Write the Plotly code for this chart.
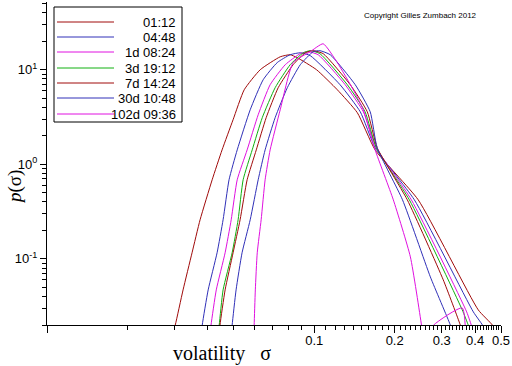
import numpy as np
import plotly.graph_objects as go

names = ["01:12", "04:48", "1d 08:24", "3d 19:12", "7d 14:24", "30d 10:48", "102d 09:36"]
colors = ["#a00a0a", "#3030b8", "#e010e0", "#10b010", "#a00a0a", "#3030b8", "#e010e0"]

s_0112 = [0.0296, 0.0302, 0.0323, 0.0349, 0.0374, 0.0415, 0.0452, 0.0497, 0.0547, 0.0628, 0.0746, 0.0813, 0.0864, 0.102, 0.122, 0.145, 0.169, 0.245, 0.411, 0.464, 0.48]
p_0112 = [0.0165, 0.020, 0.047, 0.116, 0.259, 0.686, 1.42, 2.96, 6.14, 10.0, 13.7, 14.4, 13.4, 10.0, 6.14, 3.51, 1.42, 0.421, 0.0289, 0.020, 0.0165]

s_0448 = [0.0378, 0.0381, 0.0401, 0.0433, 0.0456, 0.0480, 0.0515, 0.0576, 0.0644, 0.0727, 0.0813, 0.0887, 0.0966, 0.125, 0.1487, 0.169, 0.237, 0.394, 0.426, 0.44]
p_0448 = [0.016, 0.020, 0.047, 0.116, 0.259, 0.686, 1.42, 3.77, 7.83, 11.9, 14.4, 15.1, 14.1, 6.93, 3.59, 1.50, 0.421, 0.0275, 0.020, 0.016]

s_1d = [0.0408, 0.0411, 0.0430, 0.0464, 0.0489, 0.0515, 0.0561, 0.0617, 0.0684, 0.0779, 0.0887, 0.0950, 0.1035, 0.1306, 0.1527, 0.1707, 0.231, 0.372, 0.387, 0.397]
p_1d = [0.016, 0.020, 0.047, 0.116, 0.259, 0.686, 1.42, 3.34, 6.94, 11.3, 14.8, 15.5, 14.4, 6.94, 3.59, 1.50, 0.421, 0.0275, 0.020, 0.016]

s_3d = [0.0437, 0.0441, 0.0456, 0.0493, 0.0519, 0.0542, 0.0586, 0.0639, 0.0714, 0.0813, 0.0910, 0.0966, 0.105, 0.133, 0.155, 0.1707, 0.227, 0.358, 0.377, 0.387]
p_3d = [0.016, 0.020, 0.047, 0.116, 0.259, 0.686, 1.42, 3.11, 6.45, 11.3, 15.1, 15.9, 14.8, 6.94, 3.59, 1.50, 0.421, 0.0289, 0.020, 0.016]

s_7d = [0.0441, 0.0444, 0.0464, 0.0497, 0.0528, 0.0561, 0.0607, 0.0661, 0.0733, 0.0834, 0.0926, 0.0991, 0.108, 0.1364, 0.158, 0.172, 0.223, 0.304, 0.352, 0.36]
p_7d = [0.016, 0.020, 0.047, 0.116, 0.259, 0.686, 1.42, 3.11, 6.45, 11.3, 15.1, 15.9, 14.8, 6.94, 3.59, 1.50, 0.421, 0.060, 0.020, 0.016]

s_30d = [0.0489, 0.0493, 0.0510, 0.0537, 0.0576, 0.0617, 0.0655, 0.0714, 0.0793, 0.0887, 0.0991, 0.105, 0.1148, 0.1424, 0.162, 0.172, 0.214, 0.272, 0.323, 0.33]
p_30d = [0.016, 0.020, 0.047, 0.116, 0.259, 0.686, 1.42, 3.11, 6.45, 11.3, 15.5, 15.9, 14.4, 6.94, 3.59, 1.50, 0.421, 0.0645, 0.020, 0.016]

s_102d = [0.0594, 0.0596, 0.0602, 0.0612, 0.0633, 0.0655, 0.0684, 0.0746, 0.0834, 0.0966, 0.108, 0.122, 0.140, 0.1527, 0.169, 0.1977, 0.229, 0.252, 0.258, 0.279, 0.358, 0.37]
p_102d = [0.016, 0.020, 0.047, 0.116, 0.259, 0.686, 1.42, 3.77, 11.9, 15.5, 18.8, 11.9, 6.14, 3.77, 1.42, 0.421, 0.105, 0.020, 0.0123, 0.0198, 0.0303, 0.010]

sigmas = [s_0112, s_0448, s_1d, s_3d, s_7d, s_30d, s_102d]
probs = [p_0112, p_0448, p_1d, p_3d, p_7d, p_30d, p_102d]

x_major = [0.01, 0.1, 0.2, 0.3, 0.4, 0.5]
x_major_text = ["", "0.1", "0.2", "0.3", "0.4", "0.5"]
x_minor = [round(0.01 * k, 2) for k in range(2, 10)] + [round(0.01 * k, 2) for k in range(11, 50) if k % 10 != 0]
y_major = [0.1, 1, 10]
y_major_text = ["10<sup>-1</sup>", "10<sup>0</sup>", "10<sup>1</sup>"]
y_minor = [m * d for d in (0.01, 0.1, 1, 10) for m in range(2, 10) if 0.02 <= m * d <= 50]

W, H = 512, 366
L, R, T, B = 47, 11, 2, 41
pw, ph = W - L - R, H - T - B


def px(x):
    return (x - L) / pw


def py(y):
    return (H - B - y) / ph


fig = go.Figure()
for s, p, n, c in zip(sigmas, probs, names, colors):
    fig.add_trace(go.Scatter(x=s, y=p, mode="lines", name=n,
                             line=dict(color=c, width=1, shape="spline", smoothing=0.5),
                             showlegend=False))

# legend box drawn by hand
shapes = [dict(type="rect", xref="paper", yref="paper", x0=px(54), x1=px(182),
               y0=py(122), y1=py(7), line=dict(color="black", width=1),
               fillcolor="white", layer="below")]
annotations = []
rows = [22, 37, 52, 68, 83, 98, 114]
for n, c, r in zip(names, colors, rows):
    shapes.append(dict(type="line", xref="paper", yref="paper", x0=px(57), x1=px(114),
                       y0=py(r), y1=py(r), line=dict(color=c, width=1)))
    annotations.append(dict(xref="paper", yref="paper", x=px(178), y=py(r), text=n,
                            showarrow=False, xanchor="right", yanchor="middle",
                            font=dict(family="Liberation Sans", size=13, color="black")))

annotations.append(dict(xref="paper", yref="paper", x=px(420), y=py(16),
                        text="Copyright Gilles Zumbach 2012", showarrow=False,
                        xanchor="center", yanchor="middle",
                        font=dict(family="Liberation Sans", size=8, color="black")))
annotations.append(dict(xref="paper", yref="paper", x=px(222), y=py(353),
                        text="volatility   σ", showarrow=False,
                        xanchor="center", yanchor="middle",
                        font=dict(family="Liberation Serif", size=20, color="black")))
annotations.append(dict(xref="paper", yref="paper", x=px(15), y=py(187),
                        text="<i>p</i>(σ)", showarrow=False, textangle=-90,
                        xanchor="center", yanchor="middle",
                        font=dict(family="Liberation Serif", size=19, color="black")))

fig.update_layout(
    width=W, height=H,
    margin=dict(l=L, r=R, t=T, b=B),
    paper_bgcolor="white", plot_bgcolor="white",
    shapes=shapes, annotations=annotations,
    xaxis=dict(type="log", range=[np.log10(0.01), np.log10(0.5)],
               showgrid=False, zeroline=False, showline=True, linecolor="black", linewidth=1,
               tickmode="array", tickvals=x_major, ticktext=x_major_text,
               ticks="outside", ticklen=7, tickcolor="black", ticklabelstandoff=-4,
               tickfont=dict(family="Liberation Sans", size=13, color="black"),
               minor=dict(tickmode="array", tickvals=x_minor, ticks="outside",
                          ticklen=4, tickcolor="black", showgrid=False)),
    yaxis=dict(type="log", range=[np.log10(0.02), np.log10(52)],
               showgrid=False, zeroline=False, showline=True, linecolor="black", linewidth=1,
               tickmode="array", tickvals=y_major, ticktext=y_major_text,
               ticks="outside", ticklen=6, tickcolor="black",
               tickfont=dict(family="Liberation Sans", size=13, color="black"),
               minor=dict(tickmode="array", tickvals=y_minor, ticks="outside",
                          ticklen=4, tickcolor="black", showgrid=False)),
)

fig.write_html("out.html", config={"displayModeBar": False},
               post_script="document.body.style.margin='0';document.body.style.overflow='hidden';")
